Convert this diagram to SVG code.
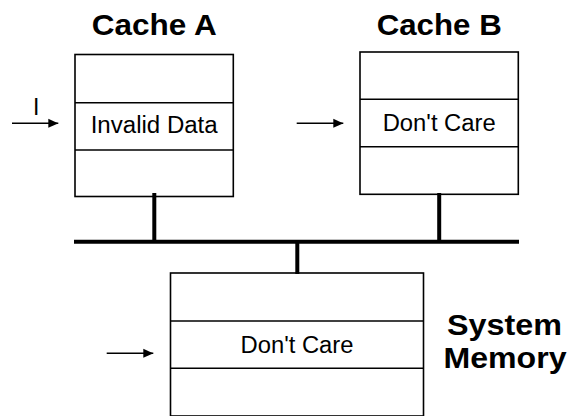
<svg xmlns="http://www.w3.org/2000/svg" width="579" height="416" viewBox="0 0 579 416">
  <style>
    .box { fill: #fff; stroke: #000; stroke-width: 1.6; }
    .div { stroke: #000; stroke-width: 1.6; }
    .title { font-family: "Liberation Sans", Arial, sans-serif; font-weight: bold; font-size: 30px; fill: #000; text-anchor: middle; }
    .label { font-family: "Liberation Sans", Arial, sans-serif; font-size: 23px; fill: #000; text-anchor: middle; }
    .bus { stroke: #000; stroke-width: 4; fill: none; }
    .ptr { stroke: #000; stroke-width: 1.5; fill: none; marker-end: url(#head); }
  </style>
  <defs>
    <marker id="head" markerWidth="10" markerHeight="10" refX="10" refY="5" orient="auto" markerUnits="userSpaceOnUse">
      <path d="M0,0.5 L10,5 L0,9.5 Z" fill="#000"/>
    </marker>
  </defs>

  <!-- Cache A -->
  <g id="cache-a">
    <text class="title" x="154.2" y="35" textLength="125" lengthAdjust="spacingAndGlyphs">Cache A</text>
    <rect class="box" x="75" y="54.5" width="158.3" height="142"/>
    <line class="div" x1="75" y1="102.7" x2="233.3" y2="102.7"/>
    <line class="div" x1="75" y1="150" x2="233.3" y2="150"/>
    <text class="label" x="154.2" y="133" textLength="127" lengthAdjust="spacingAndGlyphs">Invalid Data</text>
  </g>

  <!-- Cache B -->
  <g id="cache-b">
    <text class="title" x="439.2" y="35" textLength="125" lengthAdjust="spacingAndGlyphs">Cache B</text>
    <rect class="box" x="360" y="52" width="158.3" height="142.3"/>
    <line class="div" x1="360" y1="99.3" x2="518.3" y2="99.3"/>
    <line class="div" x1="360" y1="146.7" x2="518.3" y2="146.7"/>
    <text class="label" x="439.2" y="131" textLength="113" lengthAdjust="spacingAndGlyphs">Don't Care</text>
  </g>

  <!-- System Memory -->
  <g id="system-memory">
    <rect class="box" x="170.5" y="273" width="253" height="143"/>
    <line class="div" x1="170.5" y1="321" x2="423.5" y2="321"/>
    <line class="div" x1="170.5" y1="368.3" x2="423.5" y2="368.3"/>
    <text class="label" x="297" y="353" textLength="113" lengthAdjust="spacingAndGlyphs">Don't Care</text>
    <text class="title" x="504.5" y="335" textLength="115" lengthAdjust="spacingAndGlyphs">System</text>
    <text class="title" x="505" y="368" textLength="123" lengthAdjust="spacingAndGlyphs">Memory</text>
  </g>

  <!-- Bus and pointer arrows -->
  <g id="connectors">
    <line class="bus" x1="74" y1="241.7" x2="519" y2="241.7"/>
    <line class="bus" x1="154.3" y1="193" x2="154.3" y2="241.7"/>
    <line class="bus" x1="439.2" y1="193" x2="439.2" y2="241.7"/>
    <line class="bus" x1="297.3" y1="241.7" x2="297.3" y2="274"/>
    <line class="ptr" x1="12" y1="123.3" x2="58.3" y2="123.3"/>
    <text class="label" x="36.2" y="115">I</text>
    <line class="ptr" x1="296.7" y1="123.3" x2="343.3" y2="123.3"/>
    <line class="ptr" x1="106.7" y1="353.3" x2="153.3" y2="353.3"/>
  </g>
</svg>
